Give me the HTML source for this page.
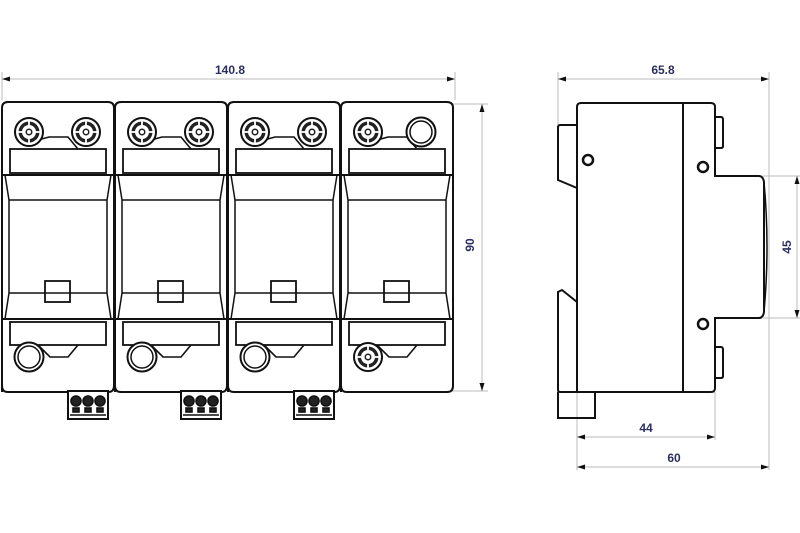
<!DOCTYPE html>
<html><head><meta charset="utf-8"><style>
html,body{margin:0;padding:0;background:#fff;}
svg{display:block}
text{font-family:"Liberation Sans",sans-serif;font-weight:bold;fill:#2b2f5e;font-size:12px}
</style></head><body>
<svg width="800" height="533" viewBox="0 0 800 533" xmlns="http://www.w3.org/2000/svg">
<defs>
<g id="screw">
<circle r="14" fill="#fff" stroke="#111" stroke-width="2"/>
<circle r="10.5" fill="#222"/>
<circle r="7" fill="#fff"/>
<circle r="3.5" fill="#222"/>
<circle r="2" fill="#fff"/>
<g stroke="#fff" stroke-width="1.8"><line x1="-11" y1="0" x2="-5" y2="0"/><line x1="11" y1="0" x2="5" y2="0"/><line x1="0" y1="-11" x2="0" y2="-5"/><line x1="0" y1="11" x2="0" y2="5"/></g>
</g>
<g id="plain"><circle r="14.5" fill="#fff" stroke="#111" stroke-width="2"/><circle r="11" fill="#fff" stroke="#111" stroke-width="1.5"/></g>
<g id="mod" fill="none" stroke="#111" stroke-width="2">
<path d="M0,392 L0,108 Q0,102 6,102 L106,102 Q112,102 112,108 L112,386 Q112,392 106,392 L6,392 Q0,392 0,386"/>
<rect x="8" y="149" width="96" height="24" stroke-width="1.8"/>
<path d="M36,140 L47,137 L66,137 L76,149" stroke-width="1.6"/>
<line x1="0" y1="175" x2="112" y2="175"/>
<path d="M3,175 L7,200 L7,293 L3,319" stroke-width="1.5"/>
<path d="M109,175 L105,200 L105,293 L109,319" stroke-width="1.5"/>
<line x1="7" y1="200" x2="105" y2="200" stroke-width="1.6"/>
<line x1="7" y1="293" x2="105" y2="293" stroke-width="1.6"/>
<rect x="43" y="281" width="25" height="21" stroke-width="1.8"/>
<line x1="0" y1="319" x2="112" y2="319"/>
<rect x="8" y="322" width="96" height="23" stroke-width="1.8"/>
<path d="M36,345 L48,357 L66,357 L76,345" stroke-width="1.6"/>
</g>
<g id="term" stroke="#111" stroke-width="1.6">
<rect x="0" y="0" width="40" height="28" fill="#fff" stroke-width="2"/>
<circle cx="8" cy="10" r="5" fill="#222"/><circle cx="20" cy="10" r="5" fill="#222"/><circle cx="32" cy="10" r="5" fill="#222"/>
<rect x="5" y="17" width="6" height="4" fill="#222"/><rect x="17" y="17" width="6" height="4" fill="#222"/><rect x="29" y="17" width="6" height="4" fill="#222"/>
<line x1="2" y1="24" x2="38" y2="24"/>
</g>
</defs>

<!-- dimensions front -->
<g stroke="#bbb" stroke-width="1" fill="none">
<line x1="2" y1="72" x2="2" y2="100"/><line x1="455" y1="72" x2="455" y2="100"/>
<line x1="2" y1="79" x2="455" y2="79"/>
<line x1="452" y1="104" x2="488" y2="104"/><line x1="452" y1="391" x2="488" y2="391"/>
<line x1="482" y1="104" x2="482" y2="391"/>
</g>
<path d="M2,79 l8,-2.5 v5z M455,79 l-8,-2.5 v5z M482,104 l-2.5,8 h5z M482,391 l-2.5,-8 h5z" fill="#111"/>
<text x="230" y="74" text-anchor="middle">140.8</text>
<text transform="translate(474,245) rotate(-90)" text-anchor="middle">90</text>

<use href="#mod" x="2"/>
<use href="#mod" x="115"/>
<use href="#mod" x="228"/>
<use href="#mod" x="341"/>
<use href="#screw" x="29" y="132"/><use href="#screw" x="86" y="132"/>
<use href="#screw" x="142" y="132"/><use href="#screw" x="199" y="132"/>
<use href="#screw" x="255" y="132"/><use href="#screw" x="312" y="132"/>
<use href="#screw" x="368" y="132"/><use href="#plain" x="421" y="132"/>
<use href="#plain" x="29" y="357"/><use href="#plain" x="142" y="357"/><use href="#plain" x="255" y="357"/><use href="#screw" x="368" y="357"/>
<use href="#term" x="68" y="391"/><use href="#term" x="181" y="391"/><use href="#term" x="294" y="391"/>

<!-- side view dims -->
<g stroke="#bbb" stroke-width="1" fill="none">
<line x1="558" y1="72" x2="558" y2="125"/><line x1="769" y1="72" x2="769" y2="470"/>
<line x1="558" y1="79" x2="769" y2="79"/>
<line x1="763" y1="176" x2="800" y2="176"/><line x1="763" y1="318" x2="800" y2="318"/>
<line x1="797" y1="176" x2="797" y2="318"/>
<line x1="577" y1="392" x2="577" y2="470"/><line x1="715" y1="392" x2="715" y2="440"/>
<line x1="577" y1="437" x2="715" y2="437"/>
<line x1="577" y1="467" x2="769" y2="467"/>
</g>
<path d="M558,79 l8,-2.5 v5z M769,79 l-8,-2.5 v5z M797,176 l-2.5,8 h5z M797,318 l-2.5,-8 h5z M577,437 l8,-2.5 v5z M715,437 l-8,-2.5 v5z M577,467 l8,-2.5 v5z M769,467 l-8,-2.5 v5z" fill="#111"/>
<text x="663" y="74" text-anchor="middle">65.8</text>
<text transform="translate(791,247) rotate(-90)" text-anchor="middle">45</text>
<text x="646" y="432" text-anchor="middle">44</text>
<text x="674" y="462" text-anchor="middle">60</text>

<g fill="none" stroke="#111" stroke-width="2">
<path d="M577,392 L577,107 Q577,103 581,103 L711,103 Q715,103 715,107 L715,176 L759,176 Q763,176 764,182 L764,312 Q763,318 759,318 L715,318 L715,388 Q715,392 711,392 Z"/>
<path d="M764,182 Q770,247 764,312" stroke-width="1.5"/>
<line x1="683" y1="103" x2="683" y2="392"/>
<path d="M577,125 L560,125 Q558,125 558,128 L558,180 L577,188"/>
<path d="M577,302 L562,290 L558,292 L558,390 Q558,392 561,392 L577,392"/>
<path d="M558,392 L558,418 L595,418 L595,392"/>
<path d="M715,117 L721,117 Q723,117 723,120 L723,146 Q723,148 721,148 L715,148"/>
<path d="M715,347 L721,347 Q723,347 723,350 L723,376 Q723,378 721,378 L715,378"/>
</g>
<g fill="#fff" stroke="#111" stroke-width="2.5">
<circle cx="588" cy="160" r="5"/><circle cx="703" cy="167" r="5"/><circle cx="703" cy="324" r="5"/>
</g>
</svg>
</body></html>
